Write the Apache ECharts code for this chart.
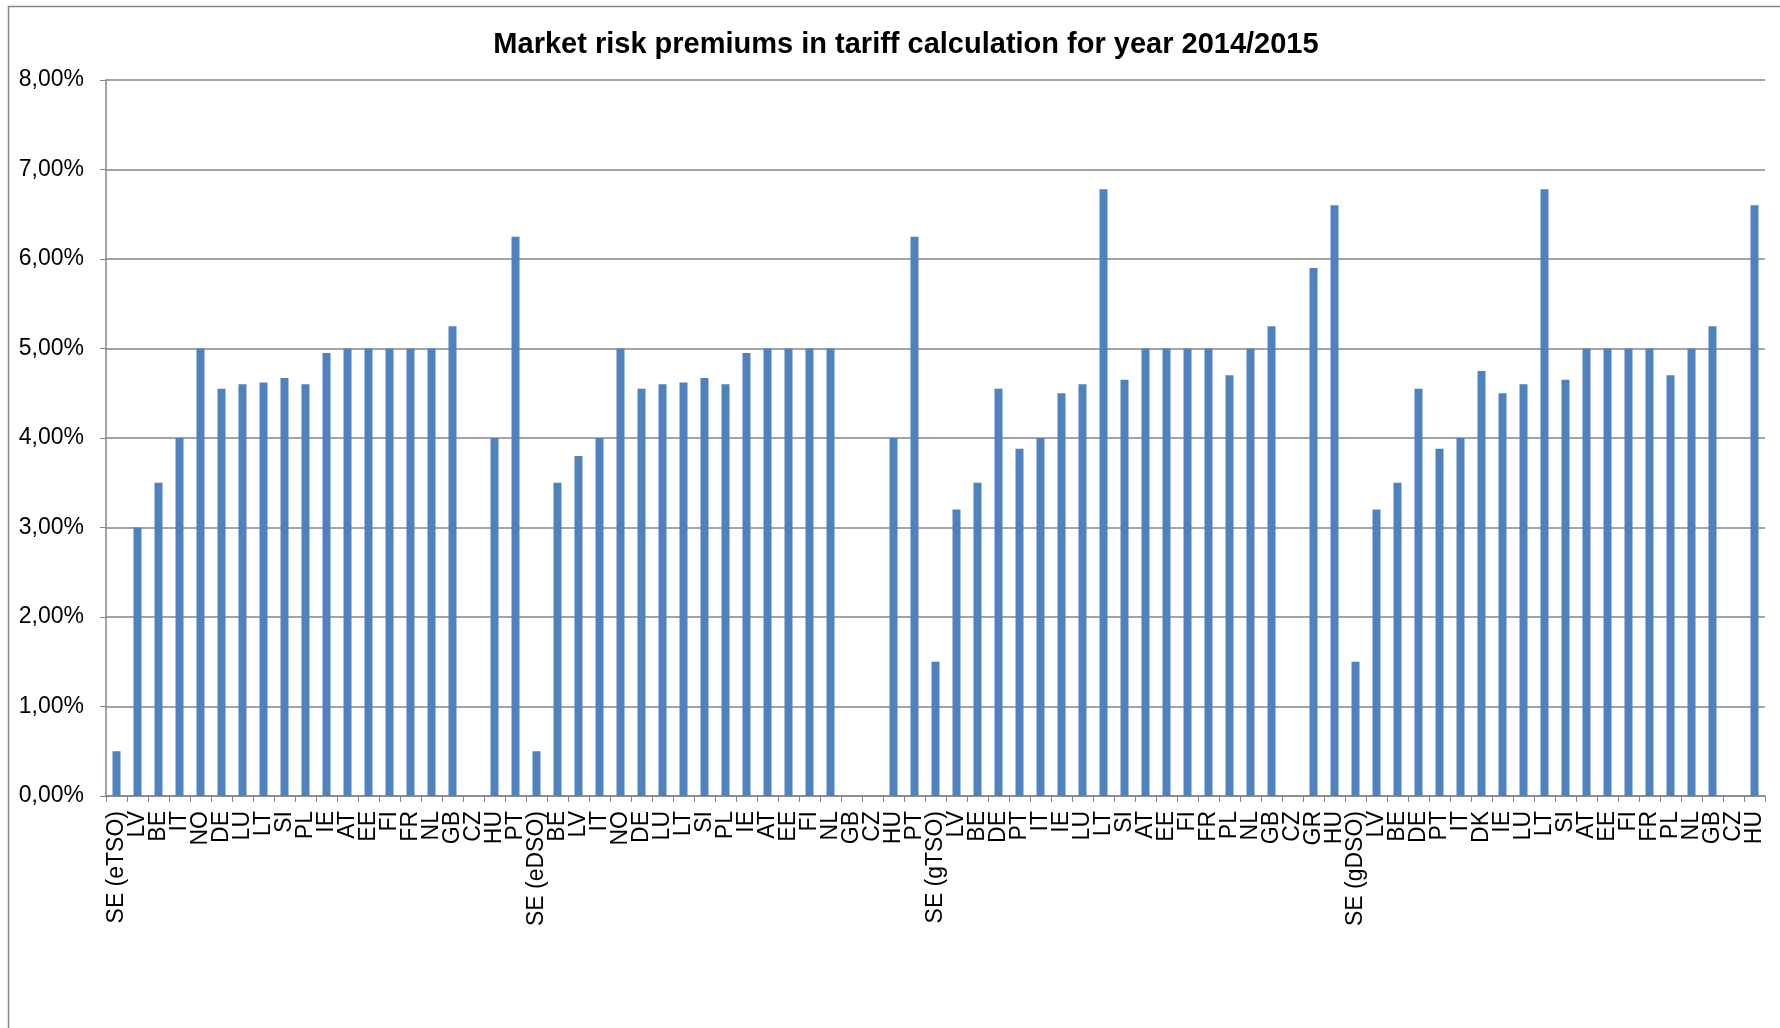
<!DOCTYPE html>
<html><head><meta charset="utf-8">
<script src="https://cdn.jsdelivr.net/npm/echarts@6/dist/echarts.min.js"></script>
<style>html,body{margin:0;padding:0;background:#fff}#c{width:1780px;height:1028px}</style>
</head><body><div id="c"></div>
<script>
const categories = [
 'SE (eTSO)','LV','BE','IT','NO','DE','LU','LT','SI','PL','IE','AT','EE','FI','FR','NL','GB','CZ','HU','PT',
 'SE (eDSO)','BE','LV','IT','NO','DE','LU','LT','SI','PL','IE','AT','EE','FI','NL','GB','CZ','HU','PT',
 'SE (gTSO)','LV','BE','DE','PT','IT','IE','LU','LT','SI','AT','EE','FI','FR','PL','NL','GB','CZ','GR','HU',
 'SE (gDSO)','LV','BE','DE','PT','IT','DK','IE','LU','LT','SI','AT','EE','FI','FR','PL','NL','GB','CZ','HU'
];
const eTSO = [0.5,3.0,3.5,4.0,5.0,4.55,4.6,4.62,4.67,4.6,4.95,5.0,5.0,5.0,5.0,5.0,5.25,null,4.0,6.25];
const eDSO = [0.5,3.5,3.8,4.0,5.0,4.55,4.6,4.62,4.67,4.6,4.95,5.0,5.0,5.0,5.0,null,null,4.0,6.25];
const gTSO = [1.5,3.2,3.5,4.55,3.88,4.0,4.5,4.6,6.78,4.65,5.0,5.0,5.0,5.0,4.7,5.0,5.25,null,5.9,6.6];
const gDSO = [1.5,3.2,3.5,4.55,3.88,4.0,4.75,4.5,4.6,6.78,4.65,5.0,5.0,5.0,5.0,4.7,5.0,5.25,null,6.6];
const values = [].concat(eTSO, eDSO, gTSO, gDSO);
const yTicks = {min: 0, max: 8, interval: 1};

const chart = echarts.init(document.getElementById('c'));
chart.setOption({
  animation: false,
  backgroundColor: '#fff',
  title: {
    text: 'Market risk premiums in tariff calculation for year 2014/2015',
    left: 901, top: 25, textAlign: 'center',
    textStyle: {fontFamily: 'Liberation Sans, Arial', fontWeight: 'bold', fontSize: 29, color: '#000'}
  },
  graphic: [{
    type: 'rect', silent: true,
    shape: {x: 8.5, y: 6.5, width: 1900, height: 1200},
    style: {fill: 'none', stroke: '#868686', lineWidth: 1.5}
  }],
  grid: {left: 106, right: 15, top: 80, bottom: 232, containLabel: false},
  xAxis: {
    type: 'category', data: categories,
    axisLine: {lineStyle: {color: '#868686', width: 1.5}},
    axisTick: {show: true, length: 6, alignWithLabel: false, lineStyle: {color: '#868686'}},
    axisLabel: {
      interval: 0, rotate: 90, margin: 15, color: '#000',
      fontFamily: 'Liberation Sans, Arial', fontSize: 23
    }
  },
  yAxis: {
    type: 'value', min: yTicks.min, max: yTicks.max, interval: yTicks.interval,
    axisLine: {show: true, lineStyle: {color: '#868686', width: 1.5}},
    axisTick: {show: true, length: 6, lineStyle: {color: '#868686'}},
    splitLine: {lineStyle: {color: '#868686', width: 1.5}},
    axisLabel: {
      margin: 22, color: '#000', fontFamily: 'Liberation Sans, Arial', fontSize: 23,
      formatter: v => v.toFixed(2).replace('.', ',') + '%'
    }
  },
  series: [{
    type: 'bar', data: values, barWidth: 8,
    itemStyle: {color: '#4F81BD'}
  }]
});
</script></body></html>
